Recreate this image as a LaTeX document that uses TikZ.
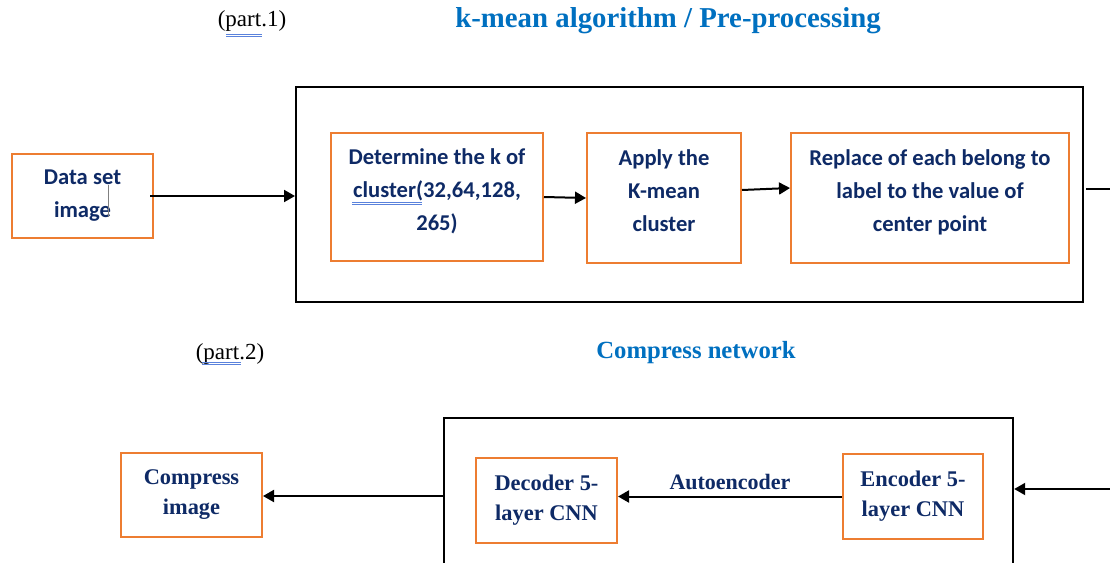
\documentclass[tikz,border=0pt]{standalone}
\usepackage{fontspec}
\setmainfont{Liberation Serif}
\newfontfamily\calfont{Carlito}
\usetikzlibrary{arrows.meta}
\definecolor{orng}{RGB}{237,125,49}
\definecolor{navy}{RGB}{14,42,102}
\definecolor{ttl}{RGB}{0,112,192}
\definecolor{spell}{RGB}{90,130,220}
\begin{document}
\begin{tikzpicture}[x=1pt,y=-1pt,
  outerbox/.style={draw=black, line width=2.2pt, anchor=north west, inner sep=0pt},
  obox/.style={draw=orng, line width=2pt, anchor=north west, inner sep=0pt, align=center, text=navy},
  calbox/.style={obox, font=\calfont\bfseries\fontsize{22.6}{33}\selectfont},
  calboxthree/.style={calbox, text depth=15pt},
  serbox/.style={obox, font=\bfseries\fontsize{22.4}{30}\selectfont},
  arr/.style={draw=black, line width=2pt, -{Triangle[length=11pt,width=12pt]}},
  plainline/.style={draw=black, line width=2pt},
  parttxt/.style={font=\fontsize{23}{26}\selectfont, text=black},
  bigttl/.style={font=\bfseries\fontsize{28.8}{32}\selectfont, text=ttl},
  midttl/.style={font=\bfseries\fontsize{24.7}{28}\selectfont, text=ttl},
  spellline/.style={draw=spell, line width=0.6pt}
]
\useasboundingbox (0,0) rectangle (1110,562);
\clip (0,0) rectangle (1110,562);
\fill[white] (0,0) rectangle (1110,562);

% titles
\node[parttxt] (p1) at (252,21) {(part.1)};
\node[bigttl] (t1) at (668,21) {k-mean algorithm / Pre-processing};
\node[parttxt] (p2) at (230,354) {(part.2)};
\node[midttl] (t2) at (696,353) {Compress network};

% spell-check underlines
\draw[spellline] (226,34) -- (262,34);
\draw[spellline] (226,36.5) -- (262,36.5);
\draw[spellline] (202,362) -- (241,362);
\draw[spellline] (202,364.5) -- (241,364.5);
\draw[spellline] (352,202) -- (422,202);
\draw[spellline] (352,204.5) -- (422,204.5);

% part 1
\node[outerbox, minimum width=787pt, minimum height=215pt] (outer1) at (295,86) {};
\node[calbox, minimum width=141pt, minimum height=84pt] (data) at (11,153) {Data set\\image};
\draw[gray, line width=0.7pt] (108,185) -- (108,217);
\node[calboxthree, minimum width=212pt, minimum height=128pt] (det) at (330,132) {Determine the k of\\cluster(32,64,128,\\265)};
\node[calboxthree, minimum width=154pt, minimum height=130pt] (apply) at (586,132) {Apply the\\K-mean\\cluster};
\node[calboxthree, minimum width=278pt, minimum height=130pt] (repl) at (790,132) {Replace of each belong to\\label to the value of\\center point};

\coordinate (r1) at (1110,189);
\draw[arr] ([xshift=-4pt]data.east) -- (data.east -| outer1.west);
\draw[arr] (det.east) -- (apply.west);
\draw[arr] ([yshift=8pt]apply.east) -- ([yshift=10pt]repl.west);
\draw[plainline] ([xshift=2pt]outer1.east |- r1) -- (r1);

% part 2
\node[outerbox, minimum width=569pt, minimum height=170pt] (outer2) at (443,417) {};
\node[serbox, minimum width=141pt, minimum height=84pt] (comp) at (120,452) {Compress\\image};
\node[serbox, minimum width=141pt, minimum height=85pt] (dec) at (475,457) {Decoder 5-\\layer CNN};
\node[serbox, minimum width=140pt, minimum height=85pt] (enc) at (842,453) {Encoder 5-\\layer CNN};

\coordinate (r2) at (1110,489);
\coordinate (l2) at (443,496);
\draw[arr] (r2) -- (r2 -| outer2.east);
\draw[arr] (enc.west) -- (enc.west -| dec.east) node[midway, above=2pt, font=\bfseries\fontsize{22}{26}\selectfont, text=navy] (ae) {Autoencoder};
\draw[arr] (l2) -- (l2 -| comp.east);
\end{tikzpicture}
\end{document}
